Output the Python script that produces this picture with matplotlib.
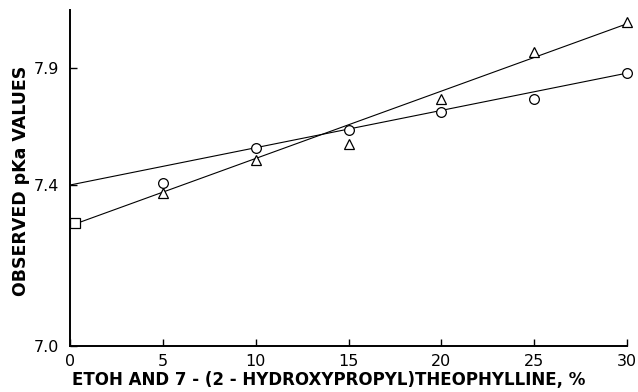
import matplotlib
matplotlib.use("Agg")
import matplotlib.pyplot as plt
import numpy as np

# data
pct = [5, 10, 15, 20, 25, 30]
pka_circle = [7.409, 7.558, 7.635, 7.712, 7.768, 7.879]
pka_triangle = [7.380, 7.507, 7.575, 7.768, 7.968, 8.097]
pct_square = [0.25]
pka_square = [7.305]

# fitted lines (end points)
fit_x_circle = [0, 30.3]
fit_y_circle = [7.40, 7.883]
fit_x_triangle = [0.5, 30.1]
fit_y_triangle = [7.307, 8.092]

yticks = [7.0, 7.4, 7.9]
xticks = [0, 5, 10, 15, 20, 25, 30]

# the printed y axis is not evenly spaced: piecewise linear between labels
knots_v = [6.0, 7.0, 7.4, 7.9, 9.0]
knots_p = [-402.0, 0.0, 161.0, 278.0, 278.0 + 1.1 * 234.0]


def fwd(v):
    return np.interp(v, knots_v, knots_p)


def inv(p):
    return np.interp(p, knots_p, knots_v)


fig = plt.figure(figsize=(6.38, 3.92), dpi=100)
ax = fig.add_axes([70 / 638, 1 - 346 / 392, 557 / 638, 336 / 392])
ax.set_yscale("function", functions=(fwd, inv))

ax.plot(fit_x_circle, fit_y_circle, "k-", lw=0.8)
ax.plot(fit_x_triangle, fit_y_triangle, "k-", lw=0.8)
ax.plot(pct, pka_circle, "o", mfc="white", mec="black", ms=7, mew=0.9, ls="none",
        clip_on=False)
ax.plot(pct, pka_triangle, "^", mfc="white", mec="black", ms=6.5, mew=0.9, ls="none",
        clip_on=False)
ax.plot(pct_square, pka_square, "s", mfc="white", mec="black", ms=7.5, mew=0.9,
        ls="none", clip_on=False)

ax.set_xlim(0, 30)
ax.set_ylim(7.0, 8.148)
ax.set_xticks(xticks)
ax.set_xticklabels([str(t) for t in xticks])
ax.set_yticks(yticks)
ax.set_yticklabels(["7.0", "7.4", "7.9"])
ax.yaxis.set_minor_locator(matplotlib.ticker.NullLocator())
ax.tick_params(direction="in", length=5, width=1, labelsize=11.5, pad=6)
ax.tick_params(axis="y", pad=8)

for s in ["top", "right"]:
    ax.spines[s].set_visible(False)
for s in ["left", "bottom"]:
    ax.spines[s].set_linewidth(1.4)

ax.set_ylabel("OBSERVED pKa VALUES", fontsize=12.5, fontweight="bold")
ax.yaxis.set_label_coords(-0.072, 0.49)
ax.set_xlabel("ETOH AND 7 - (2 - HYDROXYPROPYL)THEOPHYLLINE, %", fontsize=12,
              fontweight="bold", labelpad=0)
ax.xaxis.set_label_coords(0.465, -0.075)

fig.savefig("out.png", dpi=100)
